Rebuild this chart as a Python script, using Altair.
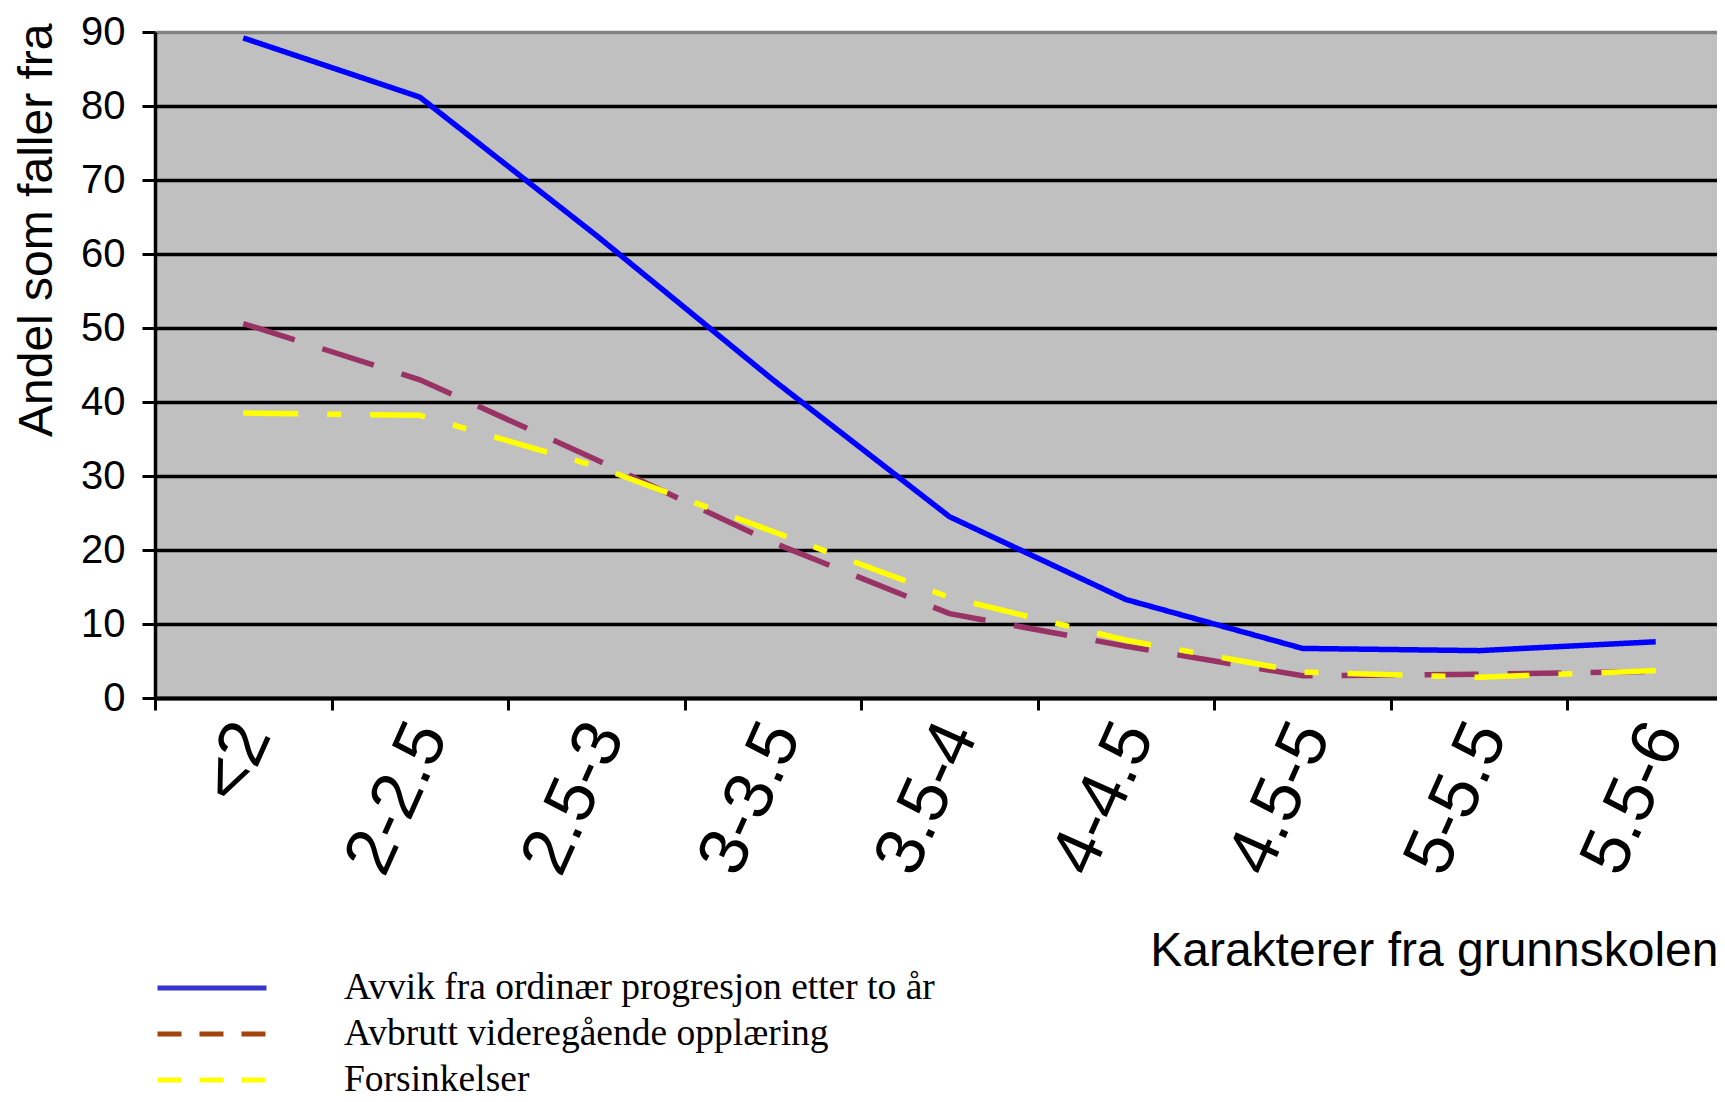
import altair as alt
import pandas as pd

categories = ["<2", "2-2.5", "2.5-3", "3-3.5", "3.5-4", "4-4.5", "4.5-5", "5-5.5", "5.5-6"]
series_names = [
    "Avvik fra ordinær progresjon etter to år",
    "Avbrutt videregående opplæring",
    "Forsinkelser",
]
avvik = [89.2, 81.2, 62.5, 43.0, 24.5, 13.3, 6.7, 6.4, 7.6]
avbrutt = [50.6, 43.0, 32.2, 21.0, 11.4, 7.0, 3.0, 3.2, 3.6]
forsinkelser = [38.5, 38.2, 31.3, 22.5, 13.6, 7.8, 3.5, 2.8, 3.7]
y_ticks = [0, 10, 20, 30, 40, 50, 60, 70, 80, 90]

line_colors = ["#0000ff", "#993366", "#ffff00"]
line_dashes = [[1, 0], [54, 29], [55, 29, 14, 29]]
legend_colors = ["#3535cc", "#a3440f", "#ffff00"]
legend_dashes = [[1, 0], [24, 18], [24, 18]]

rows = []
for name, vals in zip(series_names, [avvik, avbrutt, forsinkelser]):
    for c, v in zip(categories, vals):
        rows.append({"series": name, "cat": c, "value": v})
df = pd.DataFrame(rows)

SANS = "Liberation Sans"
SERIF = "Liberation Serif"

x_enc = alt.X(
    "cat:N",
    sort=categories,
    scale=alt.Scale(type="band", domain=categories, range=[0, 1589], paddingInner=0, paddingOuter=0),
    axis=alt.Axis(
        title="Karakterer fra grunnskolen",
        tickBand="extent",
        labelAngle=294,
        labelAlign="right",
        labelBaseline="middle",
        labelFont=SANS,
        labelFontSize=69,
        labelColor="black",
        labelPadding=16,
        labelOffset=9,
        labelOverlap=False,
        tickSize=12,
        tickWidth=3,
        tickColor="black",
        domainColor="black",
        domainWidth=4,
        grid=False,
        titleFont=SANS,
        titleFontSize=48,
        titleFontWeight="normal",
        titleColor="black",
        titleAlign="right",
        titleBaseline="alphabetic",
        titleX=1563,
        titleY=267,
    ),
)

y_enc = alt.Y(
    "value:Q",
    scale=alt.Scale(domain=[0, 90], nice=False),
    axis=alt.Axis(
        values=y_ticks,
        title="Andel som faller fra",
        titleFont=SANS,
        titleFontSize=48,
        titleFontWeight="normal",
        titleColor="black",
        titleAngle=270,
        titleAlign="right",
        titleBaseline="alphabetic",
        titleX=-104,
        titleY=-9,
        labelFont=SANS,
        labelFontSize=40,
        labelColor="black",
        labelPadding=17,
        labelFlush=False,
        tickSize=13,
        tickWidth=3,
        tickColor="black",
        domainColor="black",
        domainWidth=3.5,
        grid=True,
        gridColor=alt.condition("datum.value == 90", alt.value("#808080"), alt.value("black")),
        gridWidth=3.5,
    ),
)

lines = alt.Chart(df).mark_line(strokeWidth=5.5, strokeCap="butt").encode(
    x=x_enc,
    y=y_enc,
    color=alt.Color("series:N", scale=alt.Scale(domain=series_names, range=line_colors), legend=None),
    strokeDash=alt.StrokeDash("series:N", scale=alt.Scale(domain=series_names, range=line_dashes), legend=None),
)

leg = alt.Legend(
    title=None,
    orient="none",
    legendX=0,
    legendY=933,
    direction="vertical",
    symbolType="stroke",
    symbolSize=11881,
    symbolStrokeWidth=5,
    labelFont=SERIF,
    labelFontSize=37.5,
    labelColor="black",
    labelOffset=75,
    labelLimit=1200,
    labelBaseline="middle",
    clipHeight=46,
    rowPadding=0,
    padding=0,
)

legend_layer = alt.Chart(df).transform_filter("false").mark_line(strokeWidth=5, strokeCap="butt").encode(
    x=x_enc,
    y=y_enc,
    color=alt.Color("series:N", scale=alt.Scale(domain=series_names, range=legend_colors), legend=leg),
    strokeDash=alt.StrokeDash("series:N", scale=alt.Scale(domain=series_names, range=legend_dashes), legend=leg),
)

chart = (
    alt.layer(lines, legend_layer)
    .resolve_scale(color="independent", strokeDash="independent")
    .properties(
        width=1562,
        height=666,
        autosize=alt.AutoSizeParams(type="none"),
        padding={"left": 147, "top": 24, "right": 0, "bottom": 400},
        background="white",
    )
    .configure_view(fill="#c0c0c0", strokeWidth=0)
)

chart.save("out.html", embed_options={"renderer": "svg", "actions": False})
